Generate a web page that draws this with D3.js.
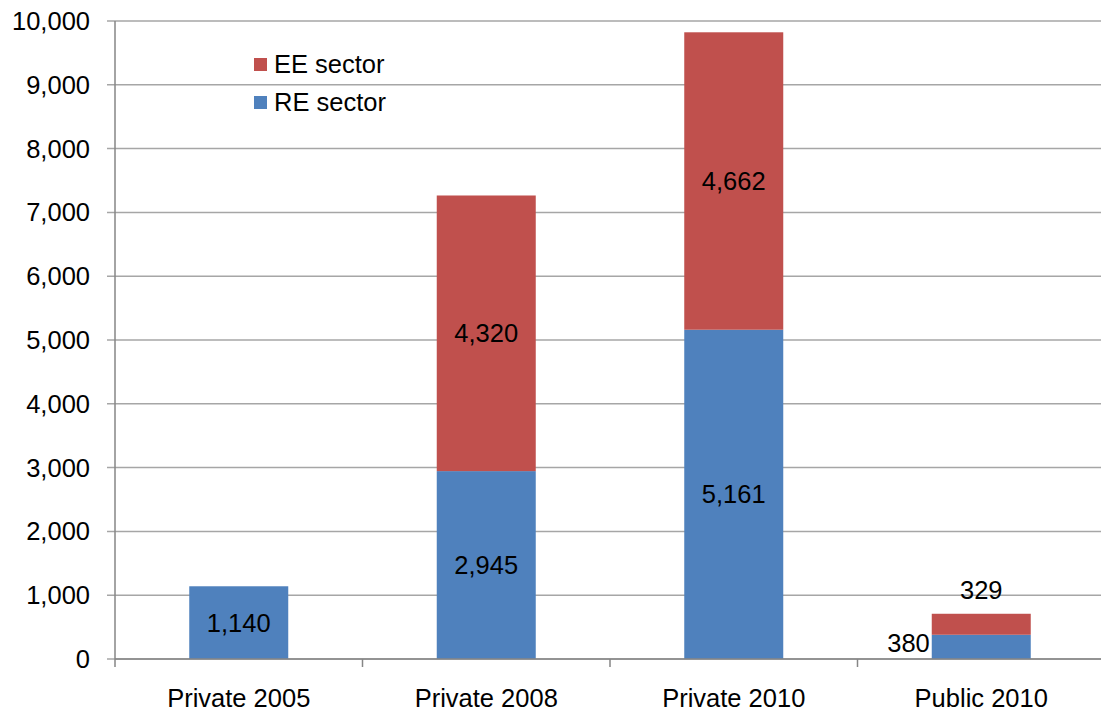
<!DOCTYPE html>
<html>
<head>
<meta charset="utf-8">
<script src="https://cdn.jsdelivr.net/npm/d3@7"></script>
<style>
  body { margin: 0; background: #fff; }
  text { font-family: "Liberation Sans", Arial, sans-serif; }
</style>
</head>
<body>
<div class="content"></div>
<script>
// Data
var categories = ["Private 2005", "Private 2008", "Private 2010", "Public 2010"];
var reValues = [1140, 2945, 5161, 380];
var eeValues = [0, 4320, 4662, 329];
var yTicks = [0, 1000, 2000, 3000, 4000, 5000, 6000, 7000, 8000, 9000, 10000];
var seriesNames = ["EE sector", "RE sector"];

var colors = {"RE sector": "#4F81BD", "EE sector": "#C0504D"};
var fontSize = "25.5px";

// Set the dimensions and margins of the graph
var margin = {top: 21, right: -4, bottom: 53, left: 115},
    width = 1101 - margin.left - margin.right,
    height = 712 - margin.top - margin.bottom;

var svg = d3.select(".content").append("svg")
    .attr("width", 1101)
    .attr("height", 712)
  .append("g")
    .attr("transform", "translate(" + margin.left + "," + margin.top + ")");

var x = d3.scaleBand()
  .domain(categories)
  .range([0, width])
  .paddingInner(0.6)
  .paddingOuter(0.3);

var xTickScale = d3.scaleLinear()
  .domain([0, categories.length])
  .range([0, width]);

var y = d3.scaleLinear()
  .domain([0, 10000])
  .range([height, 0]);

// grid lines (with small tick to the left of the axis)
svg.append("g")
  .selectAll("line")
  .data(yTicks)
  .enter()
  .append("line")
    .attr("x1", -8)
    .attr("x2", width)
    .attr("y1", function(d) { return y(d) })
    .attr("y2", function(d) { return y(d) })
    .style("stroke", "#A6A6A6")
    .style("stroke-width", 1.5);

// y tick labels
svg.append("g")
  .selectAll("text")
  .data(yTicks)
  .enter()
  .append("text")
    .attr("x", -25)
    .attr("y", function(d) { return y(d) })
    .attr("dy", "0.35em")
    .attr("text-anchor", "end")
    .style("font-size", fontSize)
    .style("fill", "#000")
    .text(function(d) { return d3.format(",")(d) });

// stacked data
var rows = categories.map(function(c, i) {
  return {cat: c, "RE sector": reValues[i], "EE sector": eeValues[i]};
});
var stack = d3.stack().keys(["RE sector", "EE sector"]);
var layers = stack(rows);

svg.selectAll("layer")
  .data(layers)
  .enter()
  .append("g")
    .style("fill", function(d) { return colors[d.key] })
  .selectAll("rect")
  .data(function(d) { return d })
  .enter()
  .append("rect")
    .attr("x", function(d) { return x(d.data.cat) })
    .attr("width", x.bandwidth())
    .attr("y", function(d) { return y(d[1]) })
    .attr("height", function(d) { return y(d[0]) - y(d[1]) });

// axis lines
svg.append("line")
  .attr("x1", 0).attr("x2", 0)
  .attr("y1", 0).attr("y2", height + 8)
  .style("stroke", "#868686")
  .style("stroke-width", 1.5);
svg.append("line")
  .attr("x1", 0).attr("x2", width)
  .attr("y1", height).attr("y2", height)
  .style("stroke", "#868686")
  .style("stroke-width", 1.5);

// category tick marks
svg.append("g")
  .selectAll("line")
  .data(d3.range(1, categories.length + 1))
  .enter()
  .append("line")
    .attr("x1", function(d) { return xTickScale(d) })
    .attr("x2", function(d) { return xTickScale(d) })
    .attr("y1", height)
    .attr("y2", height + 8)
    .style("stroke", "#868686")
    .style("stroke-width", 1.5);

// category labels
svg.append("g")
  .selectAll("text")
  .data(categories)
  .enter()
  .append("text")
    .attr("x", function(d) { return x(d) + x.bandwidth() / 2 })
    .attr("y", height + 48)
    .attr("text-anchor", "middle")
    .style("font-size", fontSize)
    .text(function(d) { return d });

// data labels
var fmt = d3.format(",");
var labels = [];
layers.forEach(function(layer) {
  layer.forEach(function(d, i) {
    var v = d[1] - d[0];
    if (v <= 0) return;
    var lx = x(d.data.cat) + x.bandwidth() / 2,
        ly = y((d[0] + d[1]) / 2),
        anchor = "middle";
    // the small public bar: labels sit outside
    if (d.data.cat === "Public 2010") {
      if (layer.key === "RE sector") {
        lx = x(d.data.cat) - 2;
        anchor = "end";
        ly = y(d[1]) + 8;
      } else {
        ly = y(d[1]) - 24;
      }
    }
    labels.push({x: lx, y: ly, anchor: anchor, text: fmt(v)});
  });
});

svg.append("g")
  .selectAll("text")
  .data(labels)
  .enter()
  .append("text")
    .attr("x", function(d) { return d.x })
    .attr("y", function(d) { return d.y })
    .attr("dy", "0.35em")
    .attr("text-anchor", function(d) { return d.anchor })
    .style("font-size", fontSize)
    .text(function(d) { return d.text });

// legend
var legend = svg.append("g")
  .attr("transform", "translate(139,37)");
legend.selectAll("rect")
  .data(seriesNames)
  .enter()
  .append("rect")
    .attr("x", 0)
    .attr("y", function(d, i) { return i * 38 })
    .attr("width", 13)
    .attr("height", 13)
    .style("fill", function(d) { return colors[d] });
legend.selectAll("text")
  .data(seriesNames)
  .enter()
  .append("text")
    .attr("x", 20)
    .attr("y", function(d, i) { return i * 38 + 15 })
    .style("font-size", fontSize)
    .text(function(d) { return d });
</script>
</body>
</html>
